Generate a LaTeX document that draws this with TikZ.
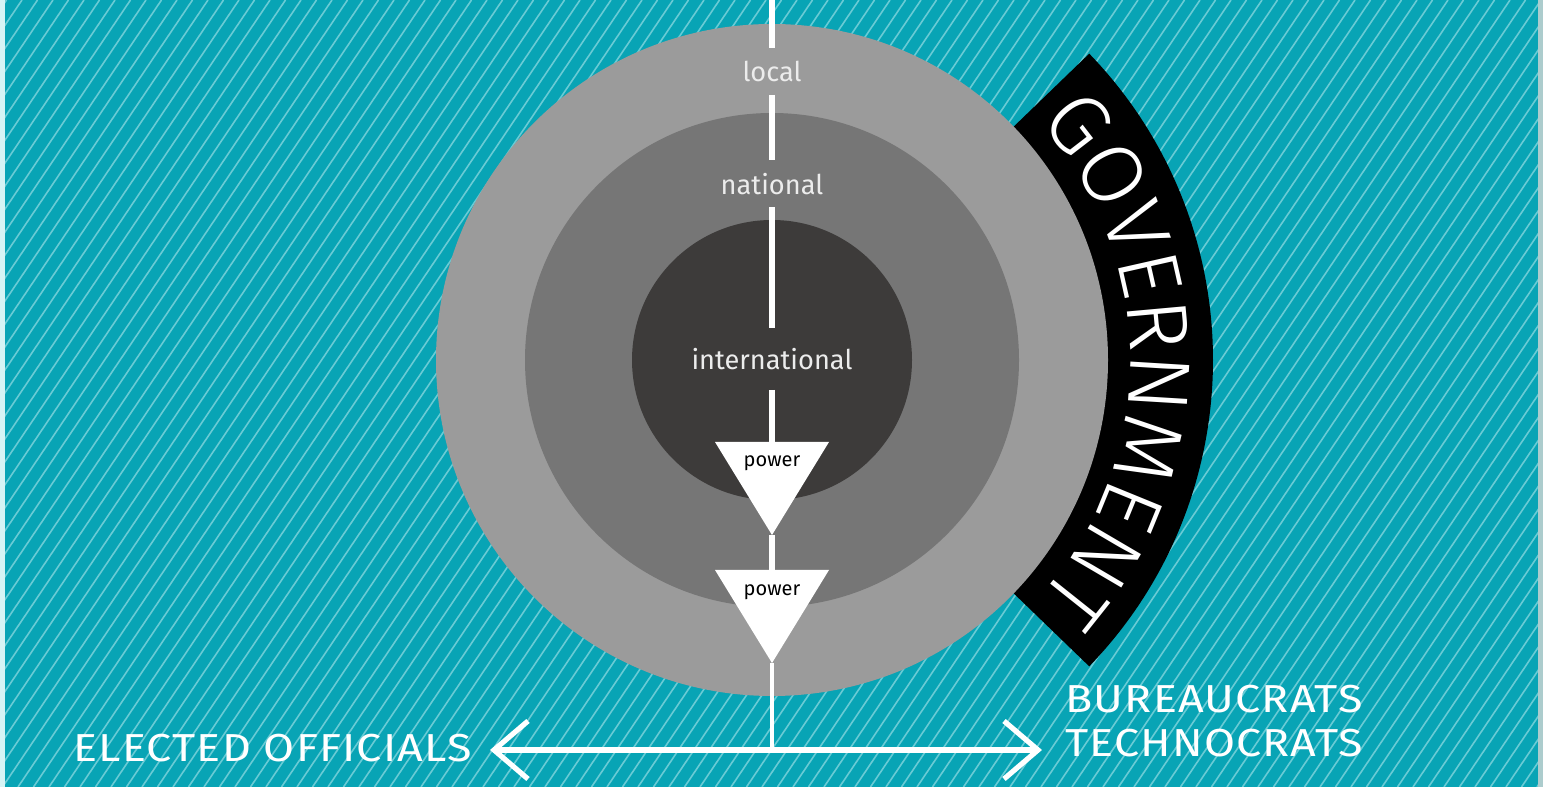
\documentclass[tikz,border=0pt]{standalone}
\usepackage{fontspec}
\setmainfont{Fira Sans}
\IfFontExistsTF{Fira Sans Light}{\newfontfamily\lightfont{Fira Sans Light}}{\newfontfamily\lightfont{Fira Sans}}
\newfontfamily\capsfont{Fira Sans}[LetterSpace=3,FakeStretch=1.15]
\usetikzlibrary{decorations.text,arrows.meta}
\definecolor{bgteal}{RGB}{8,164,181}
\definecolor{hatchc}{RGB}{105,203,213}
\definecolor{leftstrip}{RGB}{214,244,245}
\definecolor{rightstrip}{RGB}{172,204,205}
\definecolor{outerc}{RGB}{155,155,155}
\definecolor{middlec}{RGB}{118,118,118}
\definecolor{innerc}{RGB}{61,59,58}
\definecolor{labc}{RGB}{236,236,236}
\begin{document}
\begin{tikzpicture}[x=0.5pt,y=0.5pt,
  hatch/.style={draw=hatchc,line width=0.8pt},
  lvl/.style={text=labc,font=\fontsize{13.6pt}{15pt}\selectfont,inner sep=0pt,outer sep=0pt,minimum height=23.5pt},
  pw/.style={text=black,font=\fontsize{10pt}{12pt}\selectfont,inner sep=0pt},
  big/.style={text=white,font=\capsfont\fontsize{19.5pt}{22pt}\selectfont,inner sep=0pt,anchor=base west},
  vline/.style={draw=white,line width=2.8pt},
  tri/.style={fill=white}]
\useasboundingbox (0,0) rectangle (1543,787);
% background
\fill[bgteal] (0,0) rectangle (1543,787);
\begin{scope}
  \clip (5,0) rectangle (1538,787);
  \foreach \i in {-540,-524.5,...,1560} \draw[hatch] (\i,0) -- ++(531,787);
\end{scope}
\fill[leftstrip] (0,0) rectangle (5,787);
\fill[rightstrip] (1538,0) rectangle (1543,787);
% government band
\coordinate (C) at (772,427);
\fill[black] (C) -- ([shift={(-44:441)}]C) arc[start angle=-44,end angle=44,radius=441] -- cycle;
% circles
\fill[outerc] (C) circle[radius=336];
\fill[middlec] (C) circle[radius=247];
\fill[innerc] (C) circle[radius=140];
% GOVERNMENT text
\path[decorate,decoration={text along path,text align=center,text color=white,
  text={|\lightfont\fontsize{43pt}{43pt}\selectfont|GOVERNMENT}}]
  ([shift={(44:358)}]C) arc[start angle=44,end angle=-44,radius=358];
% labels
\coordinate (vtop) at (772,787);
\node[lvl] (local) at (772,715.5) {local};
\node[lvl] (national) at (772,603) {national};
\node[lvl,minimum height=31pt] (intl) at (772,428) {international};
% triangles
\coordinate (t1n) at (772,345);
\coordinate (t1s) at (772,252);
\coordinate (t2n) at (772,217);
\coordinate (t2s) at (772,124);
\coordinate (mid) at (772,37);
\fill[tri] (715,345) -- (829,345) -- (t1s) -- cycle;
\fill[tri] (715,217) -- (829,217) -- (t2s) -- cycle;
\node[pw] (pw1) at (772,324) {power};
\node[pw] (pw2) at (772,195) {power};
% vertical line
\draw[vline] (vtop) -- (local.north);
\draw[vline] (local.south) -- (national.north);
\draw[vline] (national.south) -- (intl.north);
\draw[vline] (intl.south) -- (t1n);
\draw[vline] (t1s) -- (t2n);
\draw[vline,line width=2.3pt] (t2s) -- (mid);
% horizontal arrow
\coordinate (la) at (490,37);
\coordinate (ra) at (1042,37);
\draw[draw=white,line width=2.6pt,{Straight Barb[length=17pt,width=29pt]}-{Straight Barb[length=17pt,width=29pt]}] (la) -- (ra);
% bottom labels
\node[big] (elected) at (73,25) {ELECTED OFFICIALS};
\node[big] (bureau) at (1065,74) {BUREAUCRATS};
\node[big] (techno) at (1065,30) {TECHNOCRATS};
\end{tikzpicture}
\end{document}
